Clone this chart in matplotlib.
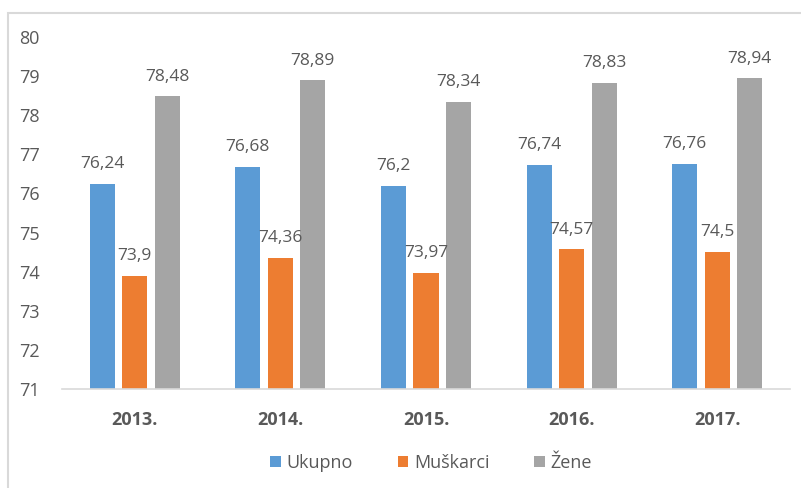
import numpy as np
import matplotlib.pyplot as plt
from matplotlib.patches import Rectangle

years = ['2013.', '2014.', '2015.', '2016.', '2017.']
ukupno = [76.24, 76.68, 76.2, 76.74, 76.76]
muskarci = [73.9, 74.36, 73.97, 74.57, 74.5]
zene = [78.48, 78.89, 78.34, 78.83, 78.94]
series_names = ['Ukupno', 'Muškarci', 'Žene']
colors = ['#5b9bd5', '#ed7d31', '#a5a5a5']

plt.rcParams['font.family'] = ['Open Sans', 'DejaVu Sans']
txt = '#595959'

fig = plt.figure(figsize=(8.01, 4.88), dpi=100)
fig.patches.append(Rectangle((8 / 801, -0.1), 1.1, 1 - 13 / 488 + 0.1,
                             transform=fig.transFigure, fill=False,
                             edgecolor='#d9d9d9', linewidth=1.5))
ax = fig.add_axes([62 / 801, 1 - 389 / 488, 728 / 801, 352 / 488])

x = np.arange(len(years))
w = 0.172
step = 0.223
for i, (vals, name, c) in enumerate(zip([ukupno, muskarci, zene], series_names, colors)):
    pos = x + (i - 1) * step
    ax.bar(pos, np.array(vals) - 71, width=w, bottom=71, color=c, label=name)
    for p, v in zip(pos, vals):
        ax.text(p, v + 0.3, f'{v:g}'.replace('.', ','), ha='center', va='bottom',
                fontsize=12.5, color=txt)

ax.set_xlim(-0.5, len(years) - 0.5)
ax.set_ylim(71, 80)
ax.set_yticks(range(71, 81))
ax.set_xticks(x)
ax.set_xticklabels(years, fontweight='bold')
ax.tick_params(axis='both', length=0, labelsize=13, colors=txt)
ax.tick_params(axis='x', pad=16)
ax.tick_params(axis='y', pad=16)
for s in ['top', 'right', 'left']:
    ax.spines[s].set_visible(False)
ax.spines['bottom'].set_color('#d9d9d9')
ax.spines['bottom'].set_linewidth(1.2)

leg = fig.legend(loc='center', bbox_to_anchor=(431 / 801, 1 - 463 / 488), ncol=3,
                 frameon=False, fontsize=13, handlelength=0.6, handleheight=0.6,
                 columnspacing=2.5, handletextpad=0.3)
for t in leg.get_texts():
    t.set_color(txt)

fig.savefig('out.png', dpi=100)
